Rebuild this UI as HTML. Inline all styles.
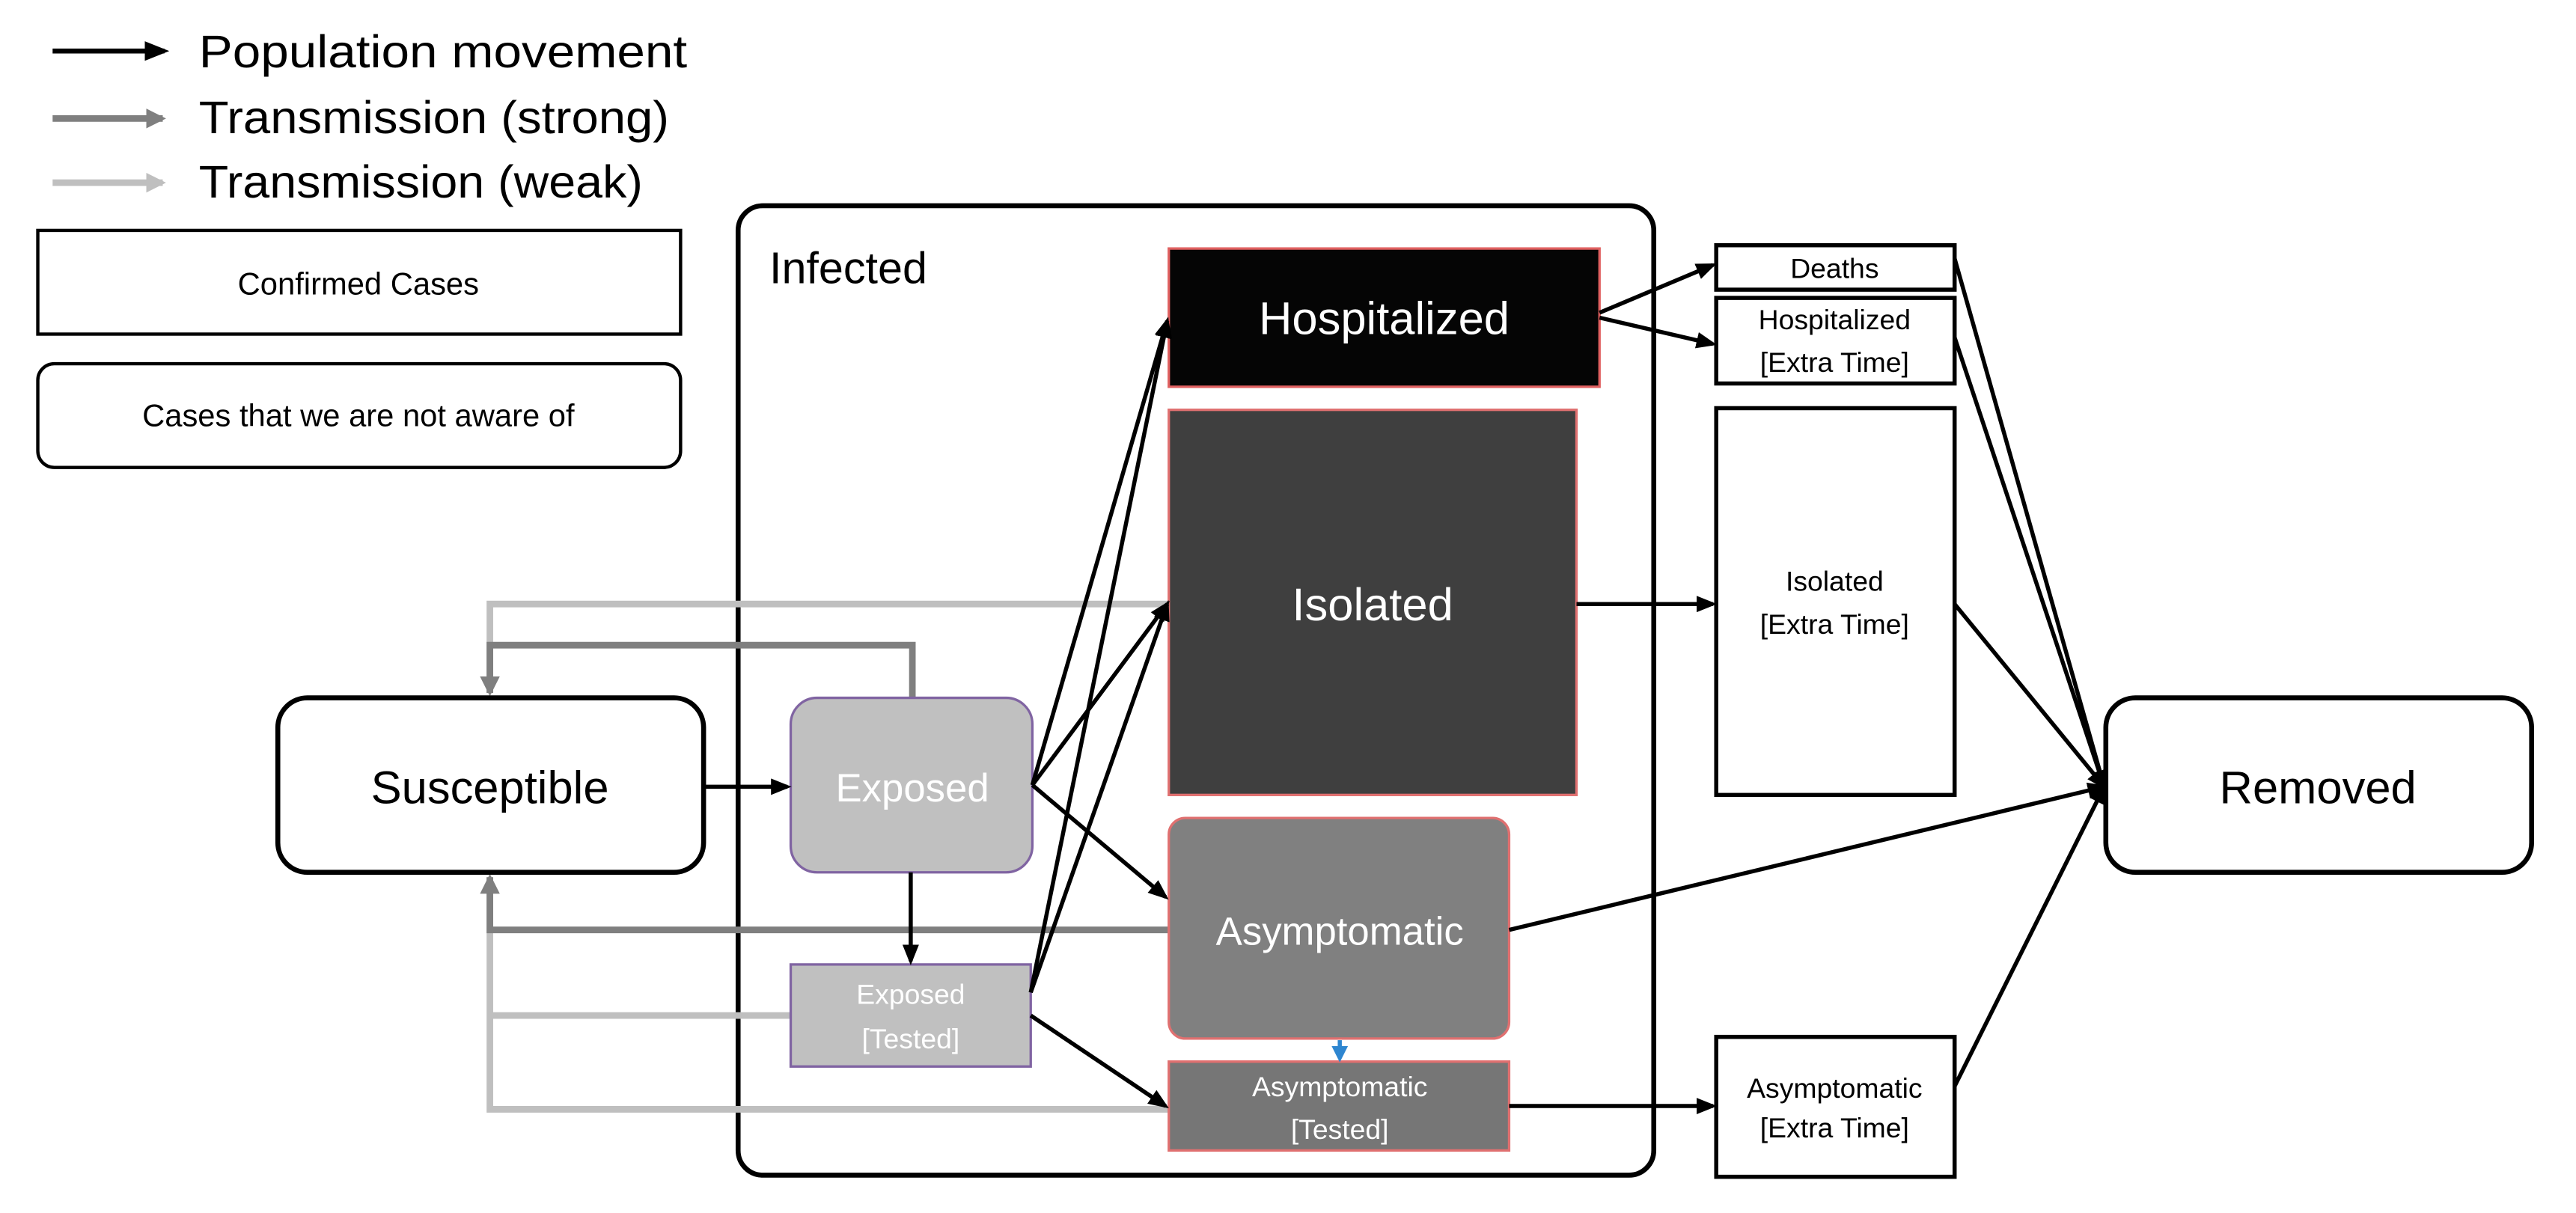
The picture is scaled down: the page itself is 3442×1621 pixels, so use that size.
<!DOCTYPE html>
<html><head><meta charset="utf-8"><style>html,body{margin:0;padding:0;background:#fff}svg{display:block}</style></head>
<body>
<svg width="3442" height="1621" viewBox="0 0 1567 737" preserveAspectRatio="none" xmlns="http://www.w3.org/2000/svg" font-family="'Liberation Sans', sans-serif">
<defs>
<marker id="ab" markerWidth="5" markerHeight="4" refX="4" refY="2" orient="auto" markerUnits="strokeWidth"><path d="M0,0 L5,2 L0,4 z" fill="#000"/></marker>
<marker id="ag" markerWidth="3" markerHeight="3" refX="2.5" refY="1.5" orient="auto" markerUnits="strokeWidth"><path d="M0,0 L3,1.5 L0,3 z" fill="#7f7f7f"/></marker>
<marker id="al" markerWidth="3" markerHeight="3" refX="2.5" refY="1.5" orient="auto" markerUnits="strokeWidth"><path d="M0,0 L3,1.5 L0,3 z" fill="#bfbfbf"/></marker>
<marker id="abl" markerWidth="4" markerHeight="4" refX="3" refY="2" orient="auto" markerUnits="strokeWidth"><path d="M0,0 L4,2 L0,4 z" fill="#2e86d0"/></marker>
</defs>
<line x1="32" y1="31" x2="100" y2="31" stroke="#000" stroke-width="3" marker-end="url(#ab)"/>
<line x1="32" y1="72" x2="99" y2="72" stroke="#7f7f7f" stroke-width="4" marker-end="url(#ag)"/>
<line x1="32" y1="111" x2="99" y2="111" stroke="#bfbfbf" stroke-width="4" marker-end="url(#al)"/>
<g font-size="28" fill="#000">
<text x="121" y="41" textLength="297" lengthAdjust="spacingAndGlyphs">Population movement</text>
<text x="121" y="81" textLength="286" lengthAdjust="spacingAndGlyphs">Transmission (strong)</text>
<text x="121" y="120" textLength="270" lengthAdjust="spacingAndGlyphs">Transmission (weak)</text>
</g>
<rect x="23" y="140" width="391" height="63" fill="#fff" stroke="#000" stroke-width="2"/>
<text x="218" y="179" font-size="19" text-anchor="middle">Confirmed Cases</text>
<rect x="23" y="221" width="391" height="63" rx="10" fill="#fff" stroke="#000" stroke-width="2"/>
<text x="218" y="259" font-size="19" text-anchor="middle">Cases that we are not aware of</text>
<rect x="449" y="125" width="557" height="589" rx="15" fill="none" stroke="#000" stroke-width="3"/>
<text x="468" y="172" font-size="27">Infected</text>
<g fill="none" stroke-width="4">
<polyline points="711,367 298,367 298,421" stroke="#bfbfbf" marker-end="url(#al)"/>
<polyline points="555,424 555,392 298,392 298,421" stroke="#7f7f7f" marker-end="url(#ag)"/>
<polyline points="711,674 298,674 298,533" stroke="#bfbfbf" marker-end="url(#al)"/>
<line x1="481" y1="617" x2="298" y2="617" stroke="#bfbfbf"/>
<polyline points="711,565 298,565 298,533" stroke="#7f7f7f" marker-end="url(#ag)"/>
</g>
<rect x="169" y="424" width="259" height="106" rx="18" fill="#fff" stroke="#000" stroke-width="3"/>
<text x="298" y="488" font-size="28" text-anchor="middle">Susceptible</text>
<rect x="481" y="424" width="147" height="106" rx="16" fill="#c0c0c0" stroke="#8064a2" stroke-width="1.5"/>
<text x="555" y="487" font-size="24" text-anchor="middle" fill="#fff">Exposed</text>
<rect x="481" y="586" width="146" height="62" fill="#c0c0c0" stroke="#8064a2" stroke-width="1.5"/>
<text x="554" y="610" font-size="17" text-anchor="middle" fill="#fff">Exposed</text>
<text x="554" y="637" font-size="17" text-anchor="middle" fill="#fff">[Tested]</text>
<rect x="711" y="151" width="262" height="84" fill="#050505" stroke="#e06060" stroke-width="1.5"/>
<text x="842" y="203" font-size="28" text-anchor="middle" fill="#fff">Hospitalized</text>
<rect x="711" y="249" width="248" height="234" fill="#3f3f3f" stroke="#e07070" stroke-width="1.5"/>
<text x="835" y="377" font-size="28" text-anchor="middle" fill="#fff">Isolated</text>
<rect x="711" y="497" width="207" height="134" rx="10" fill="#808080" stroke="#e07070" stroke-width="1.5"/>
<text x="815" y="574" font-size="24" text-anchor="middle" fill="#fff">Asymptomatic</text>
<rect x="711" y="645" width="207" height="54" fill="#767676" stroke="#e07070" stroke-width="1.5"/>
<text x="815" y="666" font-size="17" text-anchor="middle" fill="#fff">Asymptomatic</text>
<text x="815" y="692" font-size="17" text-anchor="middle" fill="#fff">[Tested]</text>
<line x1="815" y1="632" x2="815" y2="643" stroke="#2e86d0" stroke-width="2.5" marker-end="url(#abl)"/>
<g fill="#fff" stroke="#000" stroke-width="2.5">
<rect x="1044" y="149" width="145" height="27"/>
<rect x="1044" y="181" width="145" height="52"/>
<rect x="1044" y="248" width="145" height="235"/>
<rect x="1044" y="630" width="145" height="85"/>
</g>
<g font-size="17" text-anchor="middle">
<text x="1116" y="169">Deaths</text>
<text x="1116" y="200">Hospitalized</text>
<text x="1116" y="226">[Extra Time]</text>
<text x="1116" y="359">Isolated</text>
<text x="1116" y="385">[Extra Time]</text>
<text x="1116" y="667">Asymptomatic</text>
<text x="1116" y="691">[Extra Time]</text>
</g>
<rect x="1281" y="424" width="259" height="106" rx="18" fill="#fff" stroke="#000" stroke-width="3"/>
<text x="1410" y="488" font-size="28" text-anchor="middle">Removed</text>
<g stroke="#000" stroke-width="2.5" fill="none" marker-end="url(#ab)">
<line x1="428" y1="478" x2="479" y2="478"/>
<line x1="554" y1="530" x2="554" y2="584"/>
<line x1="628" y1="477" x2="710" y2="195"/>
<line x1="628" y1="477" x2="710" y2="367"/>
<line x1="628" y1="477" x2="709" y2="545"/>
<line x1="627" y1="603" x2="710" y2="195"/>
<line x1="627" y1="603" x2="710" y2="367"/>
<line x1="627" y1="617" x2="709" y2="672"/>
<line x1="973" y1="190" x2="1042" y2="161"/>
<line x1="973" y1="193" x2="1042" y2="209"/>
<line x1="959" y1="367" x2="1042" y2="367"/>
<line x1="918" y1="672" x2="1042" y2="672"/>
<line x1="1189" y1="157" x2="1280" y2="478"/>
<line x1="1189" y1="205" x2="1280" y2="478"/>
<line x1="1189" y1="367" x2="1280" y2="478"/>
<line x1="918" y1="565" x2="1280" y2="478"/>
<line x1="1189" y1="660" x2="1280" y2="478"/>
</g>
</svg>
</body></html>
